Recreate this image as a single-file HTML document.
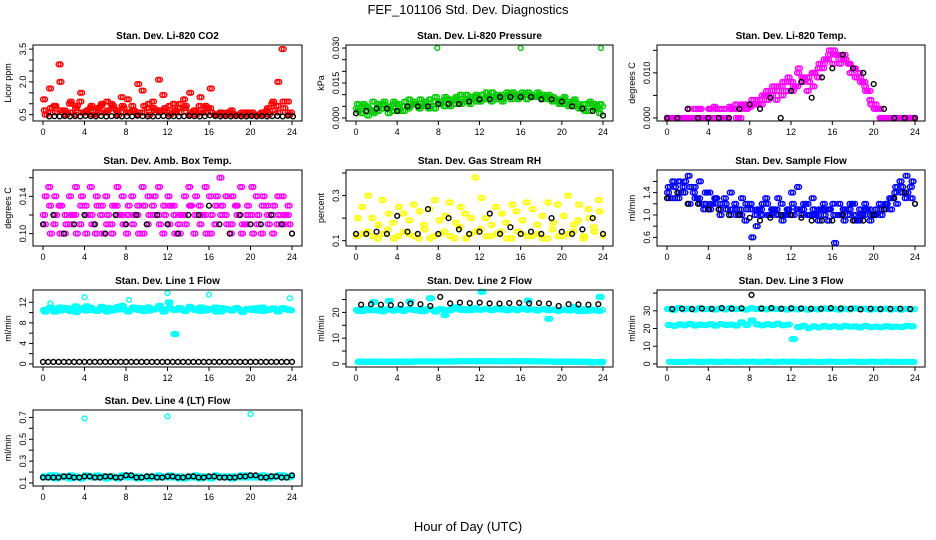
<!DOCTYPE html>
<html><head><meta charset="utf-8"><style>
body{margin:0;background:#fff;}
svg{display:block;font-family:"Liberation Sans",Arial,sans-serif;}
</style></head><body>
<svg id="c" width="936" height="540">
<text x="468" y="14" text-anchor="middle" font-size="13">FEF_101106  Std. Dev. Diagnostics</text>
<text x="468" y="531" text-anchor="middle" font-size="13">Hour of Day (UTC)</text>
</svg>
<script>
// ---- data ----
const xTicks=[0,4,8,12,16,20,24];
const co2RedA=[1.2,0.6,0.9,2.8,0.7,1.0,0.5,1.1,0.6,0.8,0.5,0.9,0.6,1.0,0.7,1.3,0.6,0.9,0.5,1.6,0.8,1.1,0.7,1.4,0.6,1.0,0.8,1.2,0.5,0.7,0.9,0.6,0.8,0.5,0.6,0.5,0.6,0.5,0.5,0.6,0.5,0.5,0.6,0.7,1.0,0.9,3.5,1.1,0.6];
const co2RedB=[0.7,1.7,0.9,2.0,0.6,1.1,0.8,1.5,0.6,0.9,0.7,1.0,1.1,0.8,0.6,0.9,1.2,0.7,1.9,0.6,1.0,0.8,2.1,0.7,0.9,0.6,1.0,0.8,1.5,0.7,1.3,0.9,1.7,0.5,0.6,0.5,0.7,0.5,0.6,0.5,0.6,0.5,0.5,0.8,1.1,2.0,1.1,0.6];
const co2RedC=[0.5,0.8,0.6,0.7,0.5,0.6,0.9,0.6,0.7,0.5,0.8,0.6,0.7,0.9,0.5,0.8,0.6,0.7,0.6,0.9,0.5,0.7,0.6,0.8,0.5,0.7,0.6,0.9,0.6,0.5,0.6,0.8,0.6,0.5,0.5,0.6,0.5,0.5,0.5,0.6,0.5,0.5,0.6,0.5,0.7,0.6,0.8,0.5];
const co2Black=[0.42,0.43,0.42,0.44,0.42,0.43,0.42,0.45,0.43,0.42,0.44,0.42,0.43,0.44,0.42,0.43,0.42,0.45,0.43,0.42,0.42,0.43,0.44,0.42,0.43,0.42,0.43,0.44,0.43,0.42,0.43,0.47,0.44,0.42,0.43,0.42,0.43,0.42,0.42,0.44,0.42,0.43,0.42,0.43,0.44,0.42,0.45,0.42];
const presGreenA=[0.004,0.002,0.005,0.003,0.006,0.004,0.005,0.003,0.006,0.005,0.004,0.007,0.005,0.006,0.004,0.007,0.006,0.005,0.008,0.006,0.007,0.008,0.006,0.009,0.007,0.008,0.009,0.008,0.010,0.009,0.008,0.010,0.009,0.008,0.010,0.009,0.008,0.009,0.007,0.008,0.006,0.007,0.005,0.006,0.004,0.006,0.005,0.004,0.005];
const presGreenB=[0.006,0.005,0.001,0.007,0.003,0.006,0.002,0.007,0.004,0.003,0.008,0.006,0.004,0.005,0.008,0.004,0.007,0.009,0.005,0.008,0.010,0.007,0.009,0.010,0.008,0.011,0.007,0.010,0.008,0.011,0.010,0.009,0.011,0.010,0.009,0.011,0.010,0.008,0.009,0.007,0.008,0.005,0.007,0.004,0.006,0.003,0.006,0.002];
const presGreenC=[0.003,0.006,0.004,0.002,0.005,0.007,0.004,0.006,0.003,0.007,0.005,0.006,0.008,0.007,0.005,0.009,0.006,0.008,0.007,0.009,0.006,0.010,0.008,0.007,0.010,0.009,0.011,0.009,0.007,0.010,0.011,0.008,0.010,0.011,0.009,0.010,0.009,0.010,0.008,0.006,0.009,0.006,0.008,0.005,0.003,0.007,0.004,0.006];
const presOutT=[7.9,16.0,23.8];
const presOut=[0.030,0.030,0.030];
const presBlack=[0.002,0.003,0.004,0.004,0.003,0.005,0.005,0.005,0.006,0.006,0.006,0.007,0.008,0.008,0.009,0.009,0.009,0.009,0.008,0.008,0.007,0.005,0.004,0.003,0.001];
const tempMagA=[0,0,0,0,0.002,0,0.002,0,0.002,0.0025,0,0.002,0.0025,0.002,0,0.003,0.0025,0.003,0.004,0.005,0.006,0.004,0.007,0.006,0.008,0.007,0.009,0.006,0.010,0.009,0.011,0.013,0.012,0.014,0.013,0.012,0.011,0.010,0.008,0.006,0.002,0.002,0,0,0,0,0,0,0];
const tempMagB=[0,0,0,0,0,0.002,0,0,0.002,0,0.002,0,0.002,0.003,0.002,0.002,0.003,0.004,0.003,0.006,0.005,0.007,0.005,0.008,0.006,0.010,0.008,0.009,0.007,0.011,0.012,0.014,0.015,0.013,0.014,0.012,0.011,0.009,0.007,0.004,0.003,0,0,0,0,0,0,0];
const tempMagC=[0,0,0,0,0,0,0.002,0,0,0.002,0,0,0.002,0,0.003,0.002,0.004,0.003,0.005,0.004,0.007,0.006,0.008,0.009,0.007,0.011,0.009,0.008,0.010,0.012,0.013,0.015,0.014,0.012,0.013,0.010,0.009,0.008,0.006,0.003,0.002,0,0,0,0,0,0,0];
const tempBlack=[0,0,0.002,0,0,0,0,0.002,0.003,0.002,0.0045,0,0.006,0.008,0.0045,0.009,0.011,0.014,0.011,0.010,0.0075,0.002,0,0,0];
const ambMagA=[0.12,0.15,0.11,0.13,0.10,0.14,0.12,0.11,0.13,0.15,0.10,0.12,0.14,0.11,0.13,0.12,0.10,0.14,0.12,0.15,0.11,0.13,0.12,0.10,0.14,0.13,0.11,0.12,0.15,0.10,0.13,0.12,0.14,0.11,0.16,0.12,0.10,0.13,0.15,0.11,0.12,0.14,0.10,0.13,0.12,0.11,0.14,0.12,0.10];
const ambMagB=[0.11,0.13,0.14,0.10,0.12,0.11,0.15,0.13,0.10,0.12,0.14,0.13,0.11,0.10,0.15,0.14,0.12,0.11,0.13,0.10,0.14,0.12,0.15,0.13,0.11,0.12,0.10,0.14,0.13,0.12,0.11,0.15,0.10,0.13,0.12,0.14,0.11,0.13,0.10,0.12,0.15,0.11,0.13,0.12,0.10,0.14,0.11,0.13];
const ambMagC=[0.14,0.10,0.12,0.13,0.11,0.12,0.10,0.14,0.12,0.11,0.13,0.10,0.12,0.13,0.12,0.11,0.13,0.12,0.10,0.13,0.12,0.14,0.11,0.12,0.13,0.10,0.12,0.11,0.13,0.14,0.12,0.10,0.12,0.14,0.13,0.11,0.14,0.12,0.11,0.13,0.10,0.12,0.14,0.11,0.13,0.12,0.12,0.11];
const ambBlack=[0.11,0.12,0.10,0.11,0.12,0.11,0.10,0.12,0.11,0.12,0.11,0.12,0.11,0.10,0.12,0.12,0.13,0.11,0.10,0.12,0.11,0.11,0.12,0.11,0.10];
const rhYelA=[0.12,0.25,0.14,0.20,0.11,0.28,0.15,0.18,0.12,0.22,0.13,0.26,0.11,0.17,0.24,0.12,0.19,0.14,0.27,0.11,0.16,0.22,0.13,0.38,0.15,0.20,0.12,0.25,0.14,0.18,0.11,0.23,0.13,0.27,0.12,0.17,0.21,0.11,0.15,0.26,0.12,0.30,0.14,0.19,0.11,0.24,0.16,0.28,0.12];
const rhYelB=[0.20,0.13,0.30,0.12,0.17,0.13,0.22,0.11,0.25,0.14,0.19,0.12,0.23,0.15,0.11,0.28,0.13,0.21,0.12,0.18,0.25,0.11,0.20,0.14,0.29,0.12,0.17,0.13,0.22,0.11,0.26,0.14,0.19,0.12,0.24,0.13,0.11,0.27,0.18,0.12,0.21,0.13,0.17,0.26,0.12,0.20,0.14,0.23];
const rhBlack=[0.13,0.13,0.14,0.13,0.21,0.14,0.13,0.24,0.13,0.20,0.15,0.13,0.14,0.22,0.13,0.16,0.13,0.14,0.13,0.20,0.14,0.13,0.15,0.20,0.13];
const flowBlueA=[1.4,1.6,1.3,1.5,1.7,1.4,1.3,1.1,1.4,1.2,1.1,1.3,1.0,1.2,1.1,0.9,1.2,1.0,1.1,1.3,1.0,1.1,1.2,1.0,1.4,1.1,1.0,1.2,1.3,1.0,1.1,0.9,1.2,1.0,1.1,1.0,1.2,0.9,1.0,1.1,1.0,1.2,1.1,1.3,1.4,1.6,1.3,1.5,1.2];
const flowBlueB=[1.5,1.3,1.6,1.4,1.2,1.5,1.6,1.2,1.1,1.3,1.0,1.2,1.4,1.1,1.0,1.2,1.1,0.8,1.0,1.2,1.1,1.0,0.9,1.1,1.2,1.5,1.1,1.0,1.1,0.9,1.2,1.1,1.0,1.2,0.9,1.1,1.0,1.1,1.2,0.9,1.0,1.1,1.2,1.1,1.5,1.4,1.7,1.3];
const flowBlueC=[1.3,1.5,1.4,1.6,1.5,1.3,1.2,1.4,1.2,1.3,1.2,1.1,1.1,1.0,1.3,1.1,0.6,1.1,1.2,1.0,1.1,1.3,1.0,1.1,1.0,1.1,1.2,1.0,1.0,1.1,1.0,1.1,0.5,1.0,1.1,1.2,0.9,1.0,1.1,1.0,1.1,1.0,1.2,1.3,1.2,1.5,1.4,1.6];
const flowBlack=[1.3,1.4,1.2,1.2,1.1,1.1,1.0,1.0,0.95,0.9,0.95,1.0,1.0,0.95,0.9,0.9,0.9,1.0,0.9,0.9,1.0,1.1,1.3,1.4,1.2];
const l1CyanA=[10.5,10.8,10.2,11.0,10.6,10.3,11.2,10.7,10.4,10.9,10.5,11.1,10.2,10.8,10.6,11.3,10.4,10.7,10.9,10.3,11.0,10.6,10.8,10.2,12.0,10.5,10.9,10.4,11.1,10.7,10.3,10.8,10.6,11.0,10.2,10.7,10.5,10.9,10.3,10.6,10.8,10.4,11.0,10.5,10.7,10.2,10.9,10.6,10.4];
const l1CyanB=[10.2,11.0,10.6,10.4,10.9,10.7,10.1,10.8,11.2,10.5,10.3,10.7,10.9,10.4,11.1,10.6,10.2,11.0,10.5,10.8,10.4,10.7,11.3,10.6,10.9,5.8,10.6,10.3,10.8,10.5,11.0,10.4,10.7,10.2,10.9,10.6,10.4,10.8,10.1,10.7,10.5,10.9,10.3,10.6,10.8,10.4,10.7,10.5];
const l1OutT=[4.0,12.0,16.0,23.8,0.7,8.3];
const l1Out=[13.0,13.8,13.5,12.8,11.8,12.5];
const l1Black=[0.4,0.4,0.4,0.4,0.4,0.4,0.4,0.4,0.4,0.4,0.4,0.4,0.4,0.4,0.4,0.4,0.4,0.4,0.4,0.4,0.4,0.4,0.4,0.4,0.4];
const l2CyanA=[21.0,20.5,21.3,20.8,21.0,20.4,21.2,20.7,21.0,20.6,21.3,20.9,21.0,20.5,21.4,20.8,21.2,19.0,20.8,21.5,21.0,21.3,20.9,21.6,21.0,21.4,20.9,21.2,21.5,21.0,21.3,20.8,21.4,21.0,21.2,20.7,21.3,20.9,21.0,20.6,21.1,20.8,21.0,20.5,21.2,20.7,21.0,20.6,21.0];
const l2CyanB=[20.6,21.2,20.9,24.0,20.7,21.1,24.5,20.8,21.4,20.9,24.2,21.0,20.6,21.2,25.5,20.3,21.3,20.9,21.2,22.0,21.4,20.8,21.6,21.1,28.0,21.3,20.9,21.5,21.1,20.8,21.3,21.0,21.5,24.6,21.1,20.9,21.3,17.5,21.1,20.8,21.0,20.7,22.0,21.0,20.6,21.2,20.8,26.0];
const l2CyanLowA=[0.8,0.9,0.8,0.9,0.8,0.9,0.8,0.9,0.8,0.9,0.8,1.0,0.9,1.0,0.9,1.0,0.9,1.0,0.9,1.0,1.1,1.0,1.1,1.0,1.1,1.0,1.1,1.0,1.1,1.0,1.1,1.0,1.1,1.0,1.1,1.0,0.9,1.0,0.9,0.8,0.9,0.8,0.9,0.8,0.9,0.8,0.7,0.6,0.8];
const l2CyanLowB=[0.9,0.8,0.9,0.8,0.9,0.8,0.9,0.8,0.9,0.8,0.9,0.9,1.0,0.9,1.0,0.9,1.0,0.9,1.0,1.0,1.1,1.0,1.1,1.0,1.1,1.0,1.1,1.0,1.1,1.0,1.1,1.0,1.1,1.0,1.0,0.9,1.0,0.9,0.8,0.9,0.8,0.9,0.8,0.9,0.8,0.5,0.7,0.8];
const l2Black=[23.0,23.2,23.0,22.8,23.0,23.4,23.2,22.5,26.0,23.5,23.8,23.6,23.8,23.5,23.4,23.6,23.7,23.5,23.6,23.4,22.5,23.2,23.1,23.0,23.2];
const l3CyanA=[31.0,30.5,31.5,30.8,31.2,30.6,31.4,30.9,31.0,30.7,31.3,30.8,31.6,30.9,31.2,30.7,31.4,31.0,31.2,30.8,31.3,30.9,31.1,30.7,31.3,30.8,31.2,30.6,31.0,30.8,31.3,30.9,31.1,30.7,31.2,30.8,31.4,31.0,31.2,30.6,31.0,30.8,31.2,30.7,31.0,30.6,31.1,30.8,31.0];
const l3CyanB=[22.0,21.5,22.3,21.8,22.6,21.7,22.2,21.9,22.4,21.6,22.5,21.9,22.2,21.7,23.5,22.0,24.5,22.3,21.8,22.4,21.9,22.7,21.8,22.2,14.0,20.8,21.5,20.3,21.2,20.6,21.4,20.9,21.3,20.7,21.5,21.0,21.2,20.6,21.4,20.8,21.1,20.7,21.3,20.9,21.0,20.8,21.5,21.2];
const l3CyanLow=[1.2,1.1,1.2,1.1,1.3,1.2,1.1,1.2,1.3,1.1,1.2,1.3,1.2,1.1,1.3,1.2,1.3,1.1,1.2,1.3,1.1,1.2,1.3,1.2,1.3,1.2,1.1,1.3,1.2,1.1,1.2,1.3,1.2,1.1,1.2,1.3,1.2,1.1,1.2,1.3,1.1,1.2,1.3,1.1,1.2,1.1,1.2,1.1,1.0];
const l3Black=[31.0,31.2,31.0,31.3,31.1,31.5,31.2,31.4,39.0,31.3,31.5,31.2,31.4,31.3,31.2,31.1,31.5,31.3,31.2,30.8,31.2,31.0,31.1,31.2,31.0];
const l4CyanA=[0.16,0.15,0.17,0.15,0.16,0.14,0.16,0.15,0.17,0.16,0.15,0.16,0.14,0.16,0.15,0.17,0.15,0.16,0.14,0.15,0.16,0.15,0.17,0.16,0.15,0.16,0.14,0.15,0.16,0.15,0.14,0.16,0.15,0.17,0.16,0.15,0.16,0.15,0.17,0.15,0.16,0.15,0.17,0.16,0.15,0.16,0.17,0.15,0.16];
const l4CyanB=[0.15,0.17,0.14,0.16,0.15,0.17,0.15,0.14,0.16,0.15,0.17,0.15,0.16,0.15,0.14,0.16,0.17,0.15,0.16,0.15,0.14,0.16,0.15,0.15,0.17,0.15,0.16,0.14,0.15,0.17,0.16,0.15,0.14,0.16,0.15,0.16,0.14,0.16,0.15,0.17,0.15,0.16,0.15,0.14,0.16,0.17,0.15,0.16];
const l4OutT=[4.0,12.0,20.0];
const l4Out=[0.69,0.71,0.73];
const l4Black=[0.15,0.15,0.16,0.15,0.16,0.15,0.16,0.15,0.17,0.15,0.16,0.15,0.16,0.15,0.16,0.15,0.16,0.15,0.15,0.16,0.17,0.15,0.16,0.15,0.17];

// ---- layout ----
const cols=[[33,302],[346,613],[657,925]];
const rows=[[45,121],[170,246],[290,367],[410,486]];
const NS="http://www.w3.org/2000/svg";
const svg=document.getElementById('c');
function mk(tag,attrs,parent){const e=document.createElementNS(NS,tag);for(const k in attrs)e.setAttribute(k,attrs[k]);(parent||svg).appendChild(e);return e;}

function ser(vals,color,t0,dt){return {vals,color,t0,dt};}
function serT(ts,vals,color){return {ts,vals,color};}
// clouds: each array drawn at several time offsets to mimic the dense sampling
function cloud(arrs,color,offs){const out=[];arrs.forEach((a,i)=>offs.forEach(o=>out.push(ser(a,color,o+i*0.08,0.5))));return out;}

const panels=[
 {c:0,r:0,title:"Stan. Dev. Li-820 CO2",ylab:"Licor ppm",ymin:0.35,ymax:3.55,ticks:[0.5,1,1.5,2,2.5,3,3.5],labels:{0.5:"0.5",2:"2.0",3.5:"3.5"},
  s:[...cloud([co2RedA,co2RedB,co2RedC],'#ff0000',[0,0.2]),ser(co2Black,'#000',0.6,0.5)]},
 {c:1,r:0,title:"Stan. Dev. Li-820 Pressure",ylab:"kPa",ymin:0,ymax:0.030,ticks:[0,0.005,0.01,0.015,0.02,0.025,0.03],labels:{0:"0.000",0.015:"0.015",0.03:"0.030"},
  s:[...cloud([presGreenA,presGreenB,presGreenC],'#00cc00',[0,0.2]),serT(presOutT,presOut,'#00cc00'),ser(presBlack,'#000',0,1)]},
 {c:2,r:0,title:"Stan. Dev. Li-820 Temp.",ylab:"degrees C",ymin:0,ymax:0.0155,ticks:[0,0.005,0.01,0.015],labels:{0:"0.000",0.01:"0.010"},
  s:[...cloud([tempMagA,tempMagB,tempMagC],'#ff00ff',[0,0.2]),ser(tempBlack,'#000',0,1)]},
 {c:0,r:1,title:"Stan. Dev. Amb. Box Temp.",ylab:"degrees C",ymin:0.09,ymax:0.165,ticks:[0.1,0.12,0.14,0.16],labels:{0.1:"0.10",0.14:"0.14"},
  s:[...cloud([ambMagA,ambMagB,ambMagC],'#ff00ff',[0,0.2]),ser(ambBlack,'#000',0,1)]},
 {c:1,r:1,title:"Stan. Dev. Gas Stream RH",ylab:"percent",ymin:0.09,ymax:0.40,ticks:[0.1,0.2,0.3,0.4],labels:{0.1:"0.1",0.3:"0.3"},
  s:[...cloud([rhYelA,rhYelB],'#ffff00',[0,0.2]),ser(rhBlack,'#000',0,1)]},
 {c:2,r:1,title:"Stan. Dev. Sample Flow",ylab:"ml/min",ymin:0.5,ymax:1.75,ticks:[0.6,0.8,1.0,1.2,1.4,1.6],labels:{0.6:"0.6",1:"1.0",1.4:"1.4"},
  s:[...cloud([flowBlueA,flowBlueB,flowBlueC],'#0000ff',[0,0.2]),ser(flowBlack,'#000',0,1)]},
 {c:0,r:2,title:"Stan. Dev. Line 1 Flow",ylab:"ml/min",ymin:0,ymax:13.8,ticks:[0,2,4,6,8,10,12],labels:{0:"0",4:"4",8:"8",12:"12"},
  s:[...cloud([l1CyanA,l1CyanB],'#00ffff',[0,0.15,0.3]),serT(l1OutT,l1Out,'#00ffff'),ser(l1Black,'#000',0,1),ser(l1Black,'#000',0.5,1)]},
 {c:1,r:2,title:"Stan. Dev. Line 2 Flow",ylab:"ml/min",ymin:0,ymax:27.5,ticks:[0,5,10,15,20,25],labels:{0:"0",10:"10",20:"20"},
  s:[...cloud([l2CyanA,l2CyanB,l2CyanLowA,l2CyanLowB],'#00ffff',[0,0.15,0.3]),ser(l2Black,'#000',0.5,0.96)]},
 {c:2,r:2,title:"Stan. Dev. Line 3 Flow",ylab:"ml/min",ymin:0,ymax:40,ticks:[0,10,20,30,40],labels:{0:"0",10:"10",20:"20",30:"30"},
  s:[...cloud([l3CyanA,l3CyanB,l3CyanLow],'#00ffff',[0,0.15,0.3]),ser(l3Black,'#000',0.5,0.96)]},
 {c:0,r:3,title:"Stan. Dev. Line 4 (LT) Flow",ylab:"ml/min",ymin:0.1,ymax:0.74,ticks:[0.1,0.2,0.3,0.4,0.5,0.6,0.7],labels:{0.1:"0.1",0.3:"0.3",0.5:"0.5",0.7:"0.7"},
  s:[...cloud([l4CyanA,l4CyanB],'#00ffff',[0,0.15,0.3]),serT(l4OutT,l4Out,'#00ffff'),ser(l4Black,'#000',0,1),ser(l4Black,'#000',0.5,1)]}
];

panels.forEach((p,pi)=>{
  const [L,R]=cols[p.c],[T,B]=rows[p.r];
  const g=mk('g',{});
  
  
  const xs=t=>L+10+t*(R-L-20)/24;
  const span=p.ymax-p.ymin;
  const ys=v=>B-(B-T)*0.04-(v-p.ymin)/span*(B-T)*0.92;
  const tt=mk('text',{x:(L+R)/2,y:T-6,'text-anchor':'middle','font-size':10,'font-weight':'bold'},g);
  tt.textContent=p.title;
  
  
  p.s.forEach(s=>{
    s.vals.forEach((v,i)=>{
      const t=s.ts?s.ts[i]:s.t0+i*s.dt;
      if(t>24.1)return;
      const c=mk('circle',{cx:xs(t).toFixed(1),cy:ys(v).toFixed(1),r:2.4,fill:'none',stroke:s.color,'stroke-width':1.4},g);
      
      
    });
  });
  const box=mk('rect',{x:L,y:T,width:R-L,height:B-T,fill:'none',stroke:'#000','stroke-width':1},g);
  
  
  xTicks.forEach(t=>{
    mk('line',{x1:xs(t),x2:xs(t),y1:B,y2:B+4,stroke:'#000'},g);
    const lb=mk('text',{x:xs(t),y:B+14,'text-anchor':'middle','font-size':9},g);
    lb.textContent=t;
    
    
  });
  p.ticks.forEach(v=>{
    const y=ys(v);
    mk('line',{x1:L-4,x2:L,y1:y,y2:y,stroke:'#000'},g);
    const key=Object.keys(p.labels).find(k=>Math.abs(+k-v)<1e-9);
    if(key!==undefined){
      const lb=mk('text',{x:L-7,y:y,'text-anchor':'middle','font-size':9,transform:`rotate(-90 ${L-7} ${y})`},g);
      lb.textContent=p.labels[key];
      
      
    }
  });
  const yl=mk('text',{x:L-22,y:(T+B)/2,'text-anchor':'middle','font-size':9,transform:`rotate(-90 ${L-22} ${(T+B)/2})`},g);
  yl.textContent=p.ylab;
  
  
});
</script>
</body></html>
